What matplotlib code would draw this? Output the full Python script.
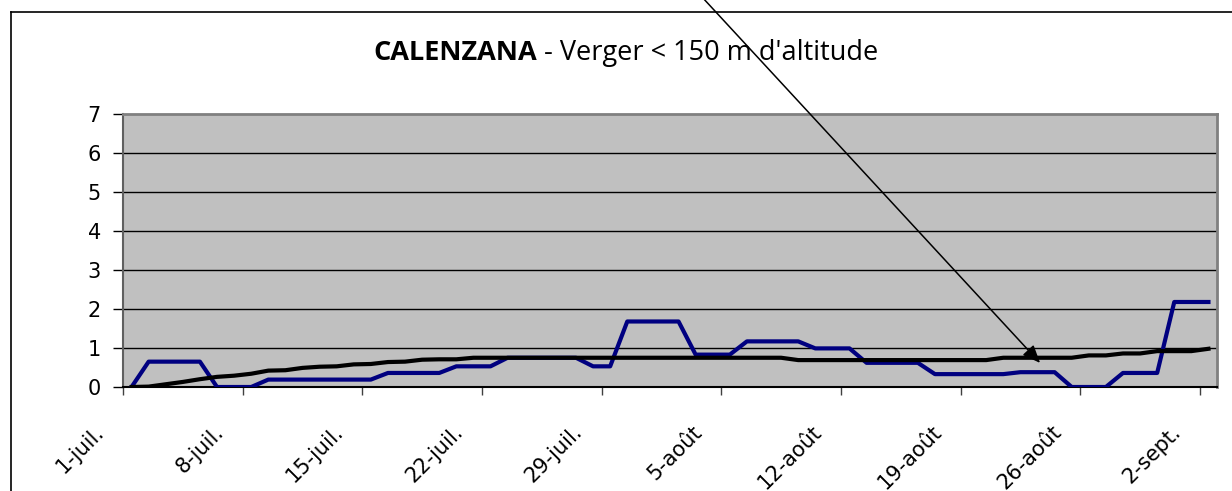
import matplotlib
matplotlib.use('Agg')
import matplotlib.pyplot as plt
from matplotlib.lines import Line2D
from matplotlib.transforms import ScaledTranslation

# one value per day, 1-juil. ... 2-sept.
blue_vals = [0.0, 0.65, 0.65, 0.65, 0.65, 0.0, 0.0, 0.0,
             0.19, 0.19, 0.19, 0.19, 0.19, 0.19, 0.19,
             0.36, 0.36, 0.36, 0.36, 0.53, 0.53, 0.53,
             0.75, 0.75, 0.75, 0.75, 0.75, 0.53, 0.53,
             1.68, 1.68, 1.68, 1.68, 0.83, 0.83, 0.83,
             1.17, 1.17, 1.17, 1.17, 0.99, 0.99, 0.99,
             0.62, 0.62, 0.62, 0.62, 0.33, 0.33, 0.33, 0.33, 0.33,
             0.38, 0.38, 0.38, 0.0, 0.0, 0.0,
             0.36, 0.36, 0.36, 2.18, 2.18, 2.18]
black_vals = [0.0, 0.01, 0.07, 0.13, 0.2, 0.26, 0.29, 0.34,
              0.42, 0.43, 0.49, 0.52, 0.53, 0.58, 0.59,
              0.64, 0.65, 0.7, 0.71, 0.71, 0.75, 0.75,
              0.75, 0.75, 0.75, 0.75, 0.75, 0.75, 0.75, 0.75, 0.75,
              0.75, 0.75, 0.75, 0.75, 0.75, 0.75, 0.75, 0.75,
              0.69, 0.69, 0.69, 0.69, 0.69, 0.69, 0.69, 0.69, 0.69,
              0.69, 0.69, 0.69, 0.75, 0.75, 0.75, 0.75, 0.75,
              0.81, 0.81, 0.86, 0.86, 0.92, 0.92, 0.92, 0.98]
tick_labels = ['1-juil.', '8-juil.', '15-juil.', '22-juil.', '29-juil.',
               '5-août', '12-août', '19-août', '26-août', '2-sept.']
tick_days = [0, 7, 14, 21, 28, 35, 42, 49, 56, 63]
days = list(range(len(blue_vals)))

W, H = 1232, 491
fig = plt.figure(figsize=(W / 100, H / 100), dpi=100)
ax = fig.add_axes([123 / W, 1 - 387 / H, (1217 - 123) / W, (387 - 114) / H])
ax.set_facecolor('#C0C0C0')

ax.plot(days, blue_vals, color='#000080', lw=3, solid_joinstyle='round', zorder=3)
ax.plot(days, black_vals, color='black', lw=3, solid_joinstyle='round', zorder=4)

ax.set_xlim(-0.5, len(days) - 0.5)
ax.set_ylim(0, 7)
ax.set_yticks(range(8))
for v in range(1, 7):
    ax.axhline(v, color='black', lw=1, zorder=1)

for s in ['top', 'right']:
    ax.spines[s].set_color('#808080')
    ax.spines[s].set_linewidth(2)
ax.spines['left'].set_color('#606060')
ax.spines['left'].set_linewidth(1.5)
ax.spines['bottom'].set_color('black')
ax.spines['bottom'].set_linewidth(1.5)

ax.tick_params(axis='y', direction='out', length=7, width=1, color='black',
               labelsize=15, pad=9)
ax.set_xticks([d - 0.5 for d in tick_days])
ax.set_xticklabels(tick_labels, rotation=45, ha='right', va='baseline',
                   rotation_mode='anchor')
ax.tick_params(axis='x', direction='out', length=6, width=1, color='#404040',
               labelsize=15, pad=27)
for lab in ax.get_xticklabels():
    lab.set_transform(lab.get_transform() + ScaledTranslation(-0.18, 0, fig.dpi_scale_trans))

# title: bold name + normal rest, centred on x=626 px, baseline y=59 px
ty = 1 - 60 / H
t1 = fig.text(0.5, ty, 'CALENZANA', fontsize=19.5, fontweight='bold', family='Open Sans',
              ha='right', va='baseline')
t2 = fig.text(0.5, ty, " - Verger < 150 m d'altitude", fontsize=19.5, family='Open Sans',
              ha='left', va='baseline')
r = fig.canvas.get_renderer()
w1 = t1.get_window_extent(r).width
w2 = t2.get_window_extent(r).width
split = 626 - (w1 + w2) / 2 + w1
t1.set_x(split / W)
t2.set_x(split / W)

# outer chart frame
fig.add_artist(Line2D([11 / W, 11 / W], [0, 1 - 12 / H], transform=fig.transFigure,
                      color='black', lw=1.2))
fig.add_artist(Line2D([11 / W, 1], [1 - 12 / H, 1 - 12 / H], transform=fig.transFigure,
                      color='black', lw=1.2))

# arrow
ax.annotate('', xy=(1042, H - 365), xycoords='figure pixels',
            xytext=(702, H + 3), textcoords='figure pixels',
            arrowprops=dict(arrowstyle='-|>,head_length=0.6,head_width=0.25',
                            color='black', lw=1.1, mutation_scale=18),
            annotation_clip=False, zorder=10)

fig.savefig('out.png', dpi=100)
